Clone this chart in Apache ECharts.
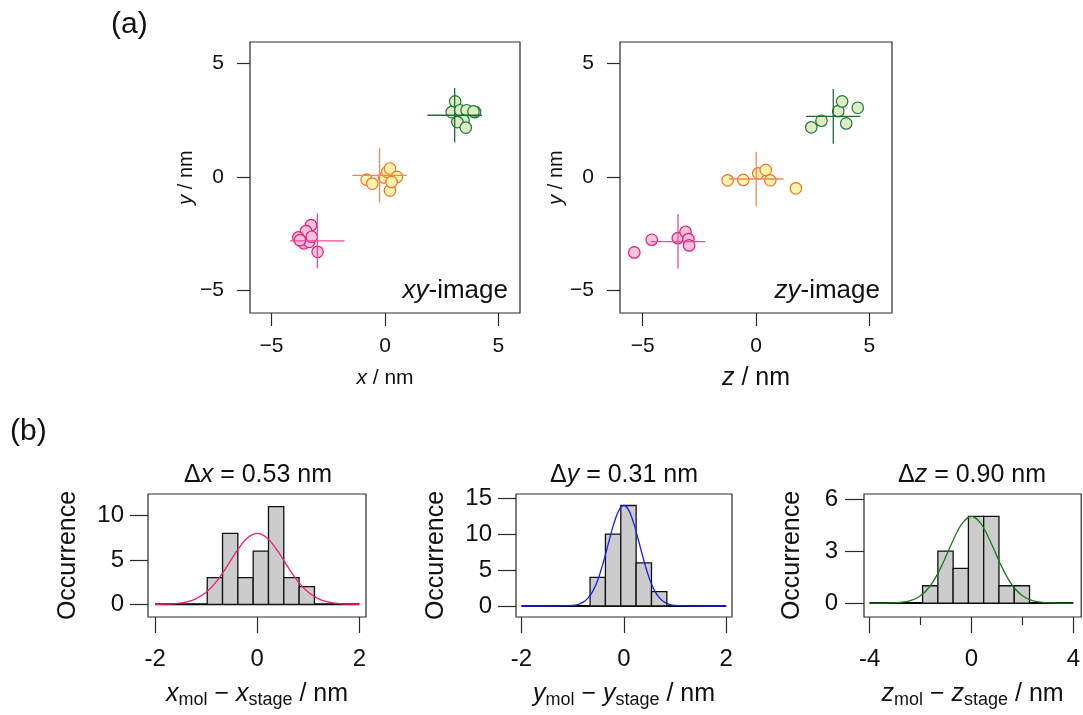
<!DOCTYPE html>
<html><head><meta charset="utf-8">
<script src="https://cdn.jsdelivr.net/npm/echarts@6/dist/echarts.min.js"></script>
<style>html,body{margin:0;padding:0;background:#fff}#c{width:1083px;height:715px}</style>
</head><body><div id="c"></div><script>
// ---------- data ----------
// (a) xy-image
const xyMagX = [-3.26, -3.48, -3.82, -3.57, -3.34, -2.97, -3.75, -3.23];
const xyMagY = [-2.12, -2.38, -2.66, -2.92, -2.85, -3.29, -2.78, -2.63];
const xyOraX = [-0.81, -0.56, -0.04, 0.10, 0.22, 0.53, 0.22, 0.29];
const xyOraY = [-0.12, -0.29, -0.03, 0.22, 0.37, 0.00, -0.60, -0.22];
const xyGrnX = [3.09, 2.94, 3.31, 3.60, 3.97, 3.46, 3.19, 3.56, 3.90];
const xyGrnY = [3.32, 2.85, 2.93, 2.93, 2.85, 2.49, 2.41, 2.17, 2.88];
const xyCrossX = [-2.98, -0.24, 3.07];
const xyCrossY = [-2.81, 0.07, 2.71];
// (a) zy-image
const zyMagZ = [-5.37, -4.60, -3.45, -3.11, -2.98, -2.95];
const zyMagY = [-3.32, -2.76, -2.69, -2.41, -2.73, -3.01];
const zyOraZ = [-1.25, -0.56, 0.10, 0.43, 0.63, 1.76];
const zyOraY = [-0.15, -0.13, 0.16, 0.31, -0.15, -0.50];
const zyGrnZ = [2.44, 2.89, 3.63, 3.80, 4.49, 3.98];
const zyGrnY = [2.18, 2.47, 2.89, 3.32, 3.04, 2.35];
const zyCrossZ = [-3.44, 0.01, 3.41];
const zyCrossY = [-2.84, -0.09, 2.66];
const crossHalf = [1.2, 1.2, 1.2];
const scatterTicks = [-5, 0, 5];
// (b) histograms
const h1Edges = [-0.98, -0.68, -0.38, -0.08, 0.22, 0.52, 0.82, 1.12];
const h1Counts = [3, 8, 3, 6, 11, 3, 2];
const h2Edges = [-0.66, -0.36, -0.06, 0.24, 0.54, 0.84];
const h2Counts = [4, 10, 14, 6, 2];
const h3Edges = [-1.92, -1.32, -0.72, -0.12, 0.48, 1.08, 1.68, 2.28];
const h3Counts = [1, 3, 2, 5, 5, 1, 1];
const h1FitX = [-2, -1.8, -1.6, -1.4, -1.2, -1.0, -0.8, -0.6, -0.4, -0.2, 0, 0.2, 0.4, 0.6, 0.8, 1.0, 1.2, 1.4, 1.6, 1.8, 2];
const h1FitY = [0, 0.02, 0.08, 0.24, 0.62, 1.35, 2.56, 4.21, 6.02, 7.45, 8.0, 7.45, 6.02, 4.21, 2.56, 1.35, 0.62, 0.24, 0.08, 0.02, 0];
const h2FitX = [-2, -1.2, -1.0, -0.9, -0.8, -0.7, -0.6, -0.5, -0.4, -0.3, -0.2, -0.1, 0, 0.1, 0.2, 0.3, 0.4, 0.5, 0.6, 0.7, 0.8, 0.9, 1.0, 1.2, 2];
const h2FitY = [0, 0.01, 0.08, 0.21, 0.50, 1.09, 2.15, 3.81, 6.09, 8.77, 11.37, 13.29, 14.0, 13.29, 11.37, 8.77, 6.09, 3.81, 2.15, 1.09, 0.50, 0.21, 0.08, 0.01, 0];
const h3FitX = [-4, -3.6, -3.2, -2.8, -2.4, -2.0, -1.6, -1.2, -0.8, -0.4, 0, 0.4, 0.8, 1.2, 1.6, 2.0, 2.4, 2.8, 3.2, 3.6, 4];
const h3FitY = [0, 0, 0.01, 0.04, 0.14, 0.42, 1.03, 2.06, 3.37, 4.53, 5.0, 4.53, 3.37, 2.06, 1.03, 0.42, 0.14, 0.04, 0.01, 0, 0];
const h1XTicks = [-2, 0, 2], h1YTicks = [0, 5, 10];
const h2XTicks = [-2, 0, 2], h2YTicks = [0, 5, 10, 15];
const h3XTicks = [-4, 0, 4], h3XMinor = [-2, 2], h3YTicks = [0, 3, 6];
const h1Range = [-2, 2], h2Range = [-2, 2], h3Range = [-4, 4];
const titles = ['0.53', '0.31', '0.90'];

// ---------- styling ----------
const FONT = '"Liberation Sans", Arial, Helvetica, sans-serif';
const INK = '#111';
const FRAME = '#2a2a2a';
const minusFmt = v => String(v).replace('-', '\u2212');

function zip(a, b) { return a.map((v, i) => [v, b[i]]); }

function axis(gridIndex, min, max, labels, o) {
  return {
    type: 'value', gridIndex, min, max, position: o.pos,
    axisLine: { show: false, onZero: false }, splitLine: { show: false },
    axisTick: { show: true, inside: false, length: o.tickLen, customValues: o.tickVals || labels,
      lineStyle: { color: FRAME, width: 1.2 } },
    axisLabel: { show: !o.noLabel, customValues: labels, margin: o.margin, fontFamily: FONT,
      fontSize: o.fs, color: INK, formatter: o.fmt || (v => String(v)) },
    name: o.name || '', nameLocation: 'middle', nameGap: o.gap || 0,
    nameTextStyle: o.nameStyle || {},
    silent: true
  };
}
function richName(size, subSize) {
  return {
    fontFamily: FONT, fontSize: size, color: INK,
    rich: {
      i: { fontFamily: FONT, fontSize: size, fontStyle: 'italic', color: INK, lineHeight: size + 2, verticalAlign: 'top' },
      n: { fontFamily: FONT, fontSize: size, color: INK, lineHeight: size + 2, verticalAlign: 'top' },
      s: { fontFamily: FONT, fontSize: subSize || size, color: INK, lineHeight: subSize || size, padding: [10, 0, 0, 0], verticalAlign: 'bottom' }
    }
  };
}

const grids = [
  { left: 250, top: 42, width: 270, height: 271 },
  { left: 620, top: 42, width: 272, height: 271 },
  { left: 148, top: 494, width: 218, height: 123 },
  { left: 516, top: 494, width: 216, height: 123 },
  { left: 864, top: 494, width: 218, height: 123 }
].map(g => Object.assign(g, { show: true, borderColor: FRAME, borderWidth: 1.2, backgroundColor: '#fff' }));

const sx = { tickLen: 13, fs: 21, fmt: minusFmt };
const xName = (v) => '{i|' + v + '}{s|mol}{n| \u2212 }{i|' + v + '}{s|stage}{n| / nm}';
const xAxes = [
  axis(0, -5.95, 5.95, scatterTicks, Object.assign({ pos: 'bottom', margin: 23, name: '{i|x}{n| / nm}', gap: 55, nameStyle: richName(21) }, sx)),
  axis(1, -6, 6, scatterTicks, Object.assign({ pos: 'bottom', margin: 23, name: '{i|z}{n| / nm}', gap: 53, nameStyle: richName(25) }, sx)),
  axis(2, -2.14, 2.13, h1XTicks, { pos: 'bottom', tickLen: 16, fs: 24, margin: 30, name: xName('x'), gap: 65, nameStyle: richName(25, 18) }),
  axis(3, -2.107, 2.113, h2XTicks, { pos: 'bottom', tickLen: 16, fs: 24, margin: 30, name: xName('y'), gap: 65, nameStyle: richName(25, 18) }),
  axis(4, -4.22, 4.31, h3XTicks, { pos: 'bottom', tickLen: 16, fs: 24, margin: 30, name: xName('z'), gap: 65, nameStyle: richName(25, 18) }),
  axis(4, -4.22, 4.31, h3XMinor, { pos: 'bottom', tickLen: 8, fs: 24, margin: 30, noLabel: true })
];
const occ = { fontFamily: FONT, fontSize: 25, color: INK };
const yAxes = [
  axis(0, -5.98, 5.93, scatterTicks, Object.assign({ pos: 'left', margin: 26, name: '{i|y}{n| / nm}', gap: 44, nameStyle: richName(20) }, sx)),
  axis(1, -5.98, 5.93, scatterTicks, Object.assign({ pos: 'left', margin: 26, name: '{i|y}{n| / nm}', gap: 44, nameStyle: richName(20) }, sx)),
  axis(2, -1.43, 12.43, h1YTicks, { pos: 'left', tickLen: 18, fs: 24, margin: 24, name: 'Occurrence', gap: 67, nameStyle: occ }),
  axis(3, -1.53, 15.6, h2YTicks, { pos: 'left', tickLen: 18, fs: 24, margin: 24, name: 'Occurrence', gap: 67, nameStyle: occ }),
  axis(4, -0.80, 6.29, h3YTicks, { pos: 'left', tickLen: 19, fs: 24, margin: 26, name: 'Occurrence', gap: 59, nameStyle: occ })
];

const series = [];
function scatter(xi, xs, ys, fill, border) {
  series.push({ type: 'scatter', xAxisIndex: xi, yAxisIndex: xi, data: zip(xs, ys), symbol: 'circle', symbolSize: 11.5,
    itemStyle: { color: fill, borderColor: border, borderWidth: 1.2, opacity: 1 }, z: 2, silent: true });
}
function cross(xi, cx, cy, h, color) {
  series.push({ type: 'line', xAxisIndex: xi, yAxisIndex: xi, data: [[cx - h, cy], [cx + h, cy]], symbol: 'none',
    lineStyle: { color, width: 1.3 }, z: 3, silent: true });
  series.push({ type: 'line', xAxisIndex: xi, yAxisIndex: xi, data: [[cx, cy - h], [cx, cy + h]], symbol: 'none',
    lineStyle: { color, width: 1.3 }, z: 3, silent: true });
}
const C = {
  mag: { fill: '#f6c2da', border: '#e6197f', cross: '#ec4a98' },
  ora: { fill: '#fff4b0', border: '#f27424', cross: '#f58650' },
  grn: { fill: '#dcedc4', border: '#22773a', cross: '#1e6e37' }
};
scatter(0, xyMagX, xyMagY, C.mag.fill, C.mag.border);
scatter(0, xyOraX, xyOraY, C.ora.fill, C.ora.border);
scatter(0, xyGrnX, xyGrnY, C.grn.fill, C.grn.border);
scatter(1, zyMagZ, zyMagY, C.mag.fill, C.mag.border);
scatter(1, zyOraZ, zyOraY, C.ora.fill, C.ora.border);
scatter(1, zyGrnZ, zyGrnY, C.grn.fill, C.grn.border);
const cc = [C.mag.cross, C.ora.cross, C.grn.cross];
xyCrossX.forEach((x, i) => cross(0, x, xyCrossY[i], crossHalf[i], cc[i]));
zyCrossZ.forEach((z, i) => cross(1, z, zyCrossY[i], crossHalf[i], cc[i]));

function hist(xi, edges, counts, range, fx, fy, color) {
  const data = counts.map((c, i) => [edges[i], edges[i + 1], c]);
  series.push({ type: 'line', xAxisIndex: xi, yAxisIndex: xi, data: [[range[0], 0], [range[1], 0]], symbol: 'none',
    lineStyle: { color: '#000', width: 2 }, z: 2, silent: true });
  series.push({ type: 'custom', xAxisIndex: xi, yAxisIndex: xi, data, encode: { x: [0, 1], y: 2 }, z: 3, silent: true,
    renderItem: (p, api) => {
      const a = api.coord([api.value(0), api.value(2)]);
      const b = api.coord([api.value(1), 0]);
      return { type: 'rect', shape: { x: a[0], y: a[1], width: b[0] - a[0], height: b[1] - a[1] },
        style: { fill: '#cccccc', stroke: '#111', lineWidth: 1.3 } };
    } });
  series.push({ type: 'line', xAxisIndex: xi, yAxisIndex: xi, data: zip(fx, fy), symbol: 'none', smooth: 0.3,
    lineStyle: { color, width: 1.3 }, z: 4, silent: true });
}
hist(2, h1Edges, h1Counts, h1Range, h1FitX, h1FitY, '#f21c78');
hist(3, h2Edges, h2Counts, h2Range, h2FitX, h2FitY, '#1a22ee');
hist(4, h3Edges, h3Counts, h3Range, h3FitX, h3FitY, '#1d7a1d');

function txt(x, y, text, size, align, rich) {
  return { type: 'text', x, y, silent: true,
    style: { text, fontFamily: FONT, fontSize: size, fill: INK, align: align || 'left', verticalAlign: 'middle', rich: rich || undefined } };
}
const titleRich = s => ({ n: { fontFamily: FONT, fontSize: s, fill: INK, color: INK }, i: { fontFamily: FONT, fontSize: s, fontStyle: 'italic', fill: INK, color: INK } });
const imgRich = titleRich(26);
const graphic = [
  txt(111, 25, '(a)', 30),
  txt(10, 432, '(b)', 30),
  txt(508, 291, '{i|xy}{n|-image}', 26, 'right', imgRich),
  txt(880, 291, '{i|zy}{n|-image}', 26, 'right', imgRich),
  txt(258, 475, '{n|\u0394}{i|x}{n| = ' + titles[0] + ' nm}', 25, 'center', titleRich(25)),
  txt(624, 475, '{n|\u0394}{i|y}{n| = ' + titles[1] + ' nm}', 25, 'center', titleRich(25)),
  txt(972, 475, '{n|\u0394}{i|z}{n| = ' + titles[2] + ' nm}', 25, 'center', titleRich(25))
];

const chart = echarts.init(document.getElementById('c'), null, { renderer: 'canvas' });
chart.setOption({
  backgroundColor: '#fff', animation: false,
  grid: grids, xAxis: xAxes, yAxis: yAxes, series, graphic
});
</script></body></html>
